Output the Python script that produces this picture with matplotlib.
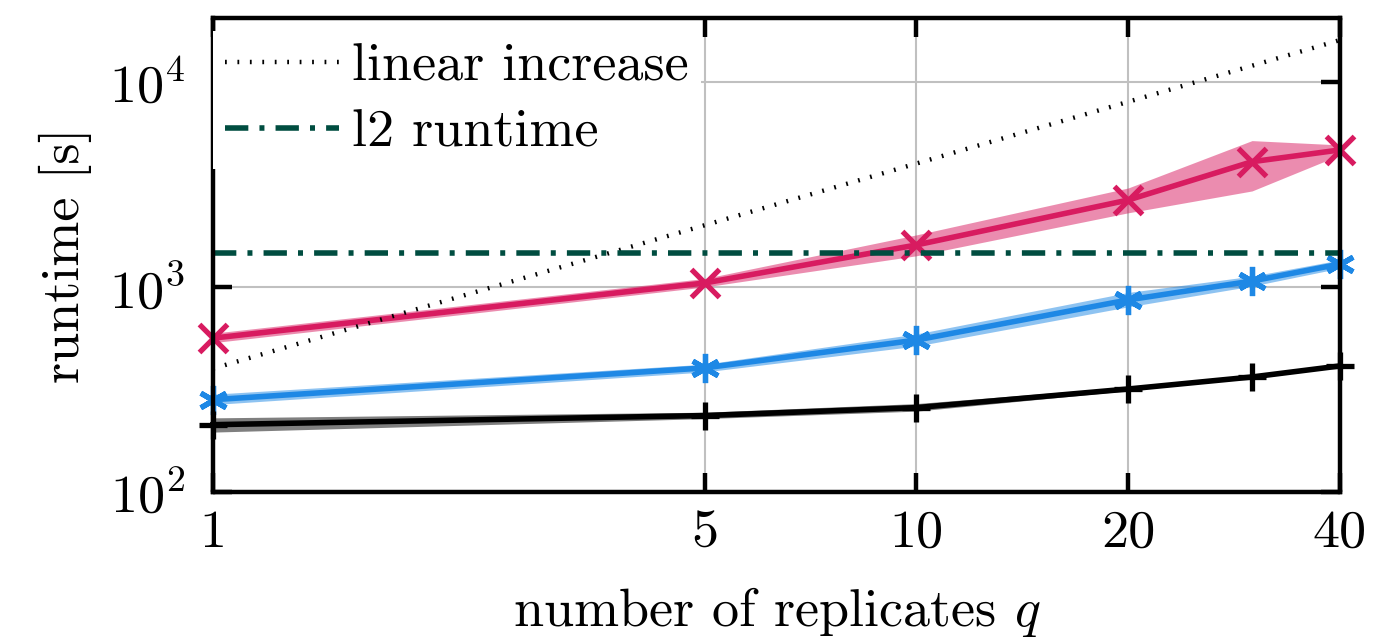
import matplotlib
matplotlib.use("Agg")
import matplotlib.pyplot as plt
from matplotlib.ticker import FixedLocator, FixedFormatter, NullLocator

plt.rcParams['font.family'] = 'serif'
plt.rcParams['font.serif'] = ['cmr10']
plt.rcParams['mathtext.fontset'] = 'cm'
plt.rcParams['axes.formatter.use_mathtext'] = True

# data
q = [1, 5, 10, 20, 30, 40]

red_mid = [563, 1046, 1603, 2655, 4083, 4660]
red_lo = [535, 1000, 1420, 2300, 2940, 4400]
red_hi = [595, 1100, 1795, 3040, 5175, 4930]

blue_mid = [282, 403, 551, 865, 1069, 1294]
blue_lo = [267, 385, 515, 800, 1010, 1235]
blue_hi = [300, 420, 590, 940, 1130, 1355]

black_mid = [213, 236, 258, 318, 364, 412]
black_lo = [196, 228, 248, 312, 360, 408]
black_hi = [230, 245, 270, 326, 370, 416]

lin_base = 400
l2_runtime = 1470

xticks = [1, 5, 10, 20, 40]
xticklabels = ['1', '5', '10', '20', '40']

FS = 39

fig = plt.figure(figsize=(13.73, 6.44), dpi=100)
ax = fig.add_axes([0.1551, 0.236, 0.8208, 0.736])

ax.fill_between(q, red_lo, red_hi, color='#D81B60', alpha=0.5, lw=0, zorder=2)
ax.fill_between(q, blue_lo, blue_hi, color='#1E88E5', alpha=0.5, lw=0, zorder=2)
ax.fill_between(q, black_lo, black_hi, color='black', alpha=0.5, lw=0, zorder=2)

ax.plot(q, red_mid, color='#D81B60', lw=4, marker='x', ms=20, mew=3.8, zorder=3, clip_on=False)
ax.plot(q, blue_mid, color='#1E88E5', lw=4, marker=(6, 2, 0), ms=21, mew=3.8, zorder=3, clip_on=False)
ax.plot(q, black_mid, color='black', lw=4, marker='+', ms=20, mew=3.8, zorder=3, clip_on=False)

ax.plot(q, [lin_base * v for v in q], color='black', lw=3.2, ls=(0, (0.4, 2.4)),
        zorder=4, label='linear increase')
ax.plot([q[0], q[-1]], [l2_runtime, l2_runtime], color='#004D40', lw=4,
        ls=(0, (4.2, 2, 0.9, 2)), zorder=4, label='l2 runtime')

ax.set_xscale('log')
ax.set_yscale('log')
ax.set_xlim(1, 40)
ax.set_ylim(100, 20500)

ax.xaxis.set_major_locator(FixedLocator(xticks))
ax.xaxis.set_major_formatter(FixedFormatter(xticklabels))
ax.xaxis.set_minor_locator(NullLocator())
ax.yaxis.set_major_locator(FixedLocator([1e2, 1e3, 1e4]))
ax.yaxis.set_minor_locator(NullLocator())

ax.grid(True, color='#c0c0c0', lw=1.5, zorder=0)
ax.set_axisbelow(True)
ax.tick_params(which='major', direction='in', length=14, width=3.2,
               top=True, right=True, labelsize=FS)
ax.tick_params(axis='x', pad=13)
ax.tick_params(axis='y', pad=20)
for s in ax.spines.values():
    s.set_linewidth(3.2)
    s.set_zorder(5)

ax.set_xlabel('number of replicates $q$', fontsize=FS, labelpad=20)
ax.set_ylabel('runtime [s]', fontsize=FS, labelpad=12)

leg = ax.legend(loc='upper left', bbox_to_anchor=(0.0, 0.973), fontsize=FS,
                frameon=True, framealpha=1, edgecolor='none', fancybox=False,
                handlelength=2.1, labelspacing=0.34, borderpad=0.22,
                handletextpad=0.25, borderaxespad=0.0)
leg.set_zorder(6)

fig.savefig('out.png', dpi=100)
